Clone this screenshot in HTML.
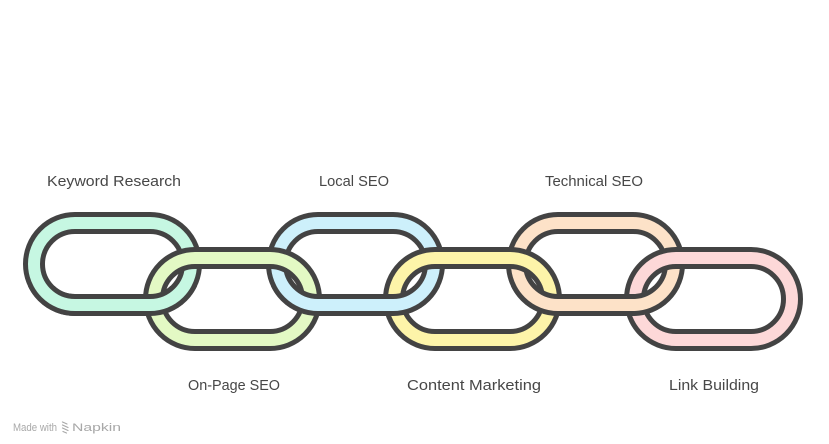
<!DOCTYPE html>
<html>
<head>
<meta charset="utf-8">
<style>
  html, body { margin: 0; padding: 0; background: #ffffff; }
  body { width: 829px; height: 444px; overflow: hidden; }
  svg { display: block; }
  .lbl { font-family: "Liberation Sans", sans-serif; font-size: 14.5px; fill: #474747; }
  .foot { font-family: "Liberation Sans", sans-serif; font-size: 11px; fill: #a8a8a8; }
</style>
</head>
<body>
<svg width="829" height="444" viewBox="0 0 829 444" xmlns="http://www.w3.org/2000/svg">
  <defs>
    <clipPath id="bot">
      <rect x="0" y="286" width="829" height="44"/>
    </clipPath>
  </defs>

  <!-- Upper links (1,3,5) -->
  <g id="l1">
    <rect x="34" y="223" width="157" height="82" rx="41" fill="none" stroke="#c6f7e2" stroke-width="16"/>
    <rect x="25.5" y="214.5" width="174" height="99" rx="49.5" fill="none" stroke="#434343" stroke-width="5"/>
    <rect x="42.5" y="231.5" width="140" height="65" rx="32.5" fill="none" stroke="#434343" stroke-width="5"/>
  </g>
  <g id="l3">
    <rect x="277" y="223" width="157" height="82" rx="41" fill="none" stroke="#cdf0fb" stroke-width="16"/>
    <rect x="268.5" y="214.5" width="174" height="99" rx="49.5" fill="none" stroke="#434343" stroke-width="5"/>
    <rect x="285.5" y="231.5" width="140" height="65" rx="32.5" fill="none" stroke="#434343" stroke-width="5"/>
  </g>
  <g id="l5">
    <rect x="517" y="223" width="157" height="82" rx="41" fill="none" stroke="#fde2c8" stroke-width="16"/>
    <rect x="508.5" y="214.5" width="174" height="99" rx="49.5" fill="none" stroke="#434343" stroke-width="5"/>
    <rect x="525.5" y="231.5" width="140" height="65" rx="32.5" fill="none" stroke="#434343" stroke-width="5"/>
  </g>

  <!-- Lower links (2,4,6) -->
  <g>
    <rect x="154" y="258" width="157" height="82" rx="41" fill="none" stroke="#e3f9c4" stroke-width="16"/>
    <rect x="145.5" y="249.5" width="174" height="99" rx="49.5" fill="none" stroke="#434343" stroke-width="5"/>
    <rect x="162.5" y="266.5" width="140" height="65" rx="32.5" fill="none" stroke="#434343" stroke-width="5"/>
  </g>
  <g>
    <rect x="394" y="258" width="157" height="82" rx="41" fill="none" stroke="#fdf4a9" stroke-width="16"/>
    <rect x="385.5" y="249.5" width="174" height="99" rx="49.5" fill="none" stroke="#434343" stroke-width="5"/>
    <rect x="402.5" y="266.5" width="140" height="65" rx="32.5" fill="none" stroke="#434343" stroke-width="5"/>
  </g>
  <g>
    <rect x="635" y="258" width="157" height="82" rx="41" fill="none" stroke="#fdd8d8" stroke-width="16"/>
    <rect x="626.5" y="249.5" width="174" height="99" rx="49.5" fill="none" stroke="#434343" stroke-width="5"/>
    <rect x="643.5" y="266.5" width="140" height="65" rx="32.5" fill="none" stroke="#434343" stroke-width="5"/>
  </g>

  <!-- Upper links bottom portions redrawn in front (interlock) -->
  <g clip-path="url(#bot)">
    <rect x="34" y="223" width="157" height="82" rx="41" fill="none" stroke="#c6f7e2" stroke-width="16"/>
    <rect x="25.5" y="214.5" width="174" height="99" rx="49.5" fill="none" stroke="#434343" stroke-width="5"/>
    <rect x="42.5" y="231.5" width="140" height="65" rx="32.5" fill="none" stroke="#434343" stroke-width="5"/>

    <rect x="277" y="223" width="157" height="82" rx="41" fill="none" stroke="#cdf0fb" stroke-width="16"/>
    <rect x="268.5" y="214.5" width="174" height="99" rx="49.5" fill="none" stroke="#434343" stroke-width="5"/>
    <rect x="285.5" y="231.5" width="140" height="65" rx="32.5" fill="none" stroke="#434343" stroke-width="5"/>

    <rect x="517" y="223" width="157" height="82" rx="41" fill="none" stroke="#fde2c8" stroke-width="16"/>
    <rect x="508.5" y="214.5" width="174" height="99" rx="49.5" fill="none" stroke="#434343" stroke-width="5"/>
    <rect x="525.5" y="231.5" width="140" height="65" rx="32.5" fill="none" stroke="#434343" stroke-width="5"/>
  </g>

  <!-- Labels -->
  <text class="lbl" x="47" y="186" textLength="134" lengthAdjust="spacingAndGlyphs">Keyword Research</text>
  <text class="lbl" x="319" y="186" textLength="70" lengthAdjust="spacingAndGlyphs">Local SEO</text>
  <text class="lbl" x="545" y="186" textLength="98" lengthAdjust="spacingAndGlyphs">Technical SEO</text>
  <text class="lbl" x="188" y="390" textLength="92" lengthAdjust="spacingAndGlyphs">On-Page SEO</text>
  <text class="lbl" x="407" y="390" textLength="134" lengthAdjust="spacingAndGlyphs">Content Marketing</text>
  <text class="lbl" x="669" y="390" textLength="90" lengthAdjust="spacingAndGlyphs">Link Building</text>

  <!-- Footer -->
  <text class="foot" x="13" y="431" textLength="44" lengthAdjust="spacingAndGlyphs">Made with</text>
  <g stroke="#a8a8a8" stroke-width="1.2" fill="none" stroke-linecap="round">
    <path d="M62.5 422 L67 424"/>
    <path d="M62.5 425 L68 427.5"/>
    <path d="M62.5 428 L68 430.5"/>
    <path d="M63 431.5 L66.5 433"/>
  </g>
  <text class="foot" x="72" y="431" textLength="49" lengthAdjust="spacingAndGlyphs">Napkin</text>
</svg>
</body>
</html>
